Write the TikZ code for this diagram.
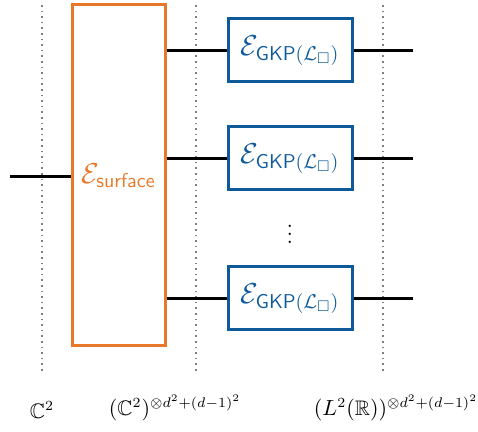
\documentclass[tikz,border=0pt]{standalone}
\usepackage{amsmath,amssymb}
\definecolor{orng}{HTML}{E8772A}
\definecolor{blu}{HTML}{0E5A9A}
\begin{document}
\begin{tikzpicture}[x=0.5pt,y=-0.5pt,
  wire/.style={line width=1.5pt,black},
  sep/.style={gray,dotted,line width=0.8pt},
  gkp/.style={draw=blu,line width=1.5pt,minimum width=62pt,minimum height=31.5pt,inner sep=0pt,text=blu,font=\Large},
  surf/.style={draw=orng,line width=1.5pt,minimum width=46.5pt,minimum height=170.5pt,inner sep=0pt,text=orng,font=\Large},
  lbl/.style={inner sep=0pt,font=\fontsize{10.5}{12}\selectfont}]
\useasboundingbox (0,0) rectangle (478,432);
\draw[sep] (42,5) -- (42,372);
\draw[sep] (196,5) -- (196,372);
\draw[sep] (383,5) -- (383,372);
\node[surf] (S) at (118.5,175.5) {$\mathcal{E}_{\mathsf{surface}}$};
\node[gkp] (G1) at (290,50.5) {$\mathcal{E}_{\mathsf{GKP}(\mathcal{L}_{\square})}$};
\node[gkp] (G2) at (290,158.5) {$\mathcal{E}_{\mathsf{GKP}(\mathcal{L}_{\square})}$};
\node[gkp] (G3) at (290,298.5) {$\mathcal{E}_{\mathsf{GKP}(\mathcal{L}_{\square})}$};
\node[font=\large,inner sep=0pt] (dots) at (290,228) {$\vdots$};
\coordinate (in) at (10,177);
\draw[wire] (in) -- (S.west |- in);
\foreach \g/\n in {G1/1,G2/2,G3/3}{
  \draw[wire] (S.east |- \g) -- (\g.west);
  \coordinate (o\n) at (413,0 |- \g);
  \draw[wire] (\g.east) -- (\g.east -| o\n);
}
\node[lbl] (L1) at (42,410) {$\mathbb{C}^2$};
\node[lbl] (L2) at (175,408) {$(\mathbb{C}^2)^{\otimes d^2+(d-1)^2}$};
\node[lbl] (L3) at (396,408) {$(L^2(\mathbb{R}))^{\otimes d^2+(d-1)^2}$};
\end{tikzpicture}
\end{document}
